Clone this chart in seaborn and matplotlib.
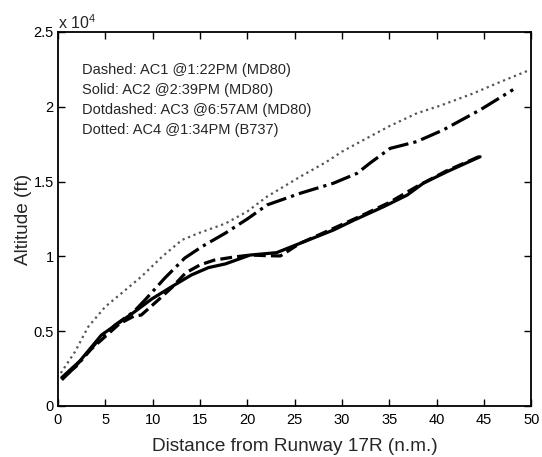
import matplotlib
matplotlib.use("Agg")
import matplotlib.pyplot as plt
import seaborn as sns
import numpy as np
from matplotlib.ticker import FuncFormatter

# Data (distance in n.m., altitude in ft)
ac1_x = [0.4, 1.8, 3.5, 5.0, 6.5, 8.0, 8.8, 10.6, 12.0, 13.5, 15.0, 16.5, 18.5, 20.3, 22.0, 23.5, 25.6, 29.1, 32.0, 35.0, 38.0, 41.0, 44.6]
ac1_y = [1750, 2630, 3800, 4650, 5500, 6000, 6080, 7090, 7900, 8900, 9430, 9750, 9950, 10090, 10050, 10030, 10880, 11870, 12700, 13600, 14700, 15700, 16700]

ac2_x = [0.4, 2.3, 4.6, 6.4, 8.1, 9.9, 12.0, 14.1, 15.9, 17.7, 20.3, 23.1, 25.6, 29.1, 31.2, 34.4, 36.9, 38.6, 41.1, 44.6]
ac2_y = [1900, 3000, 4750, 5540, 6300, 7150, 7970, 8760, 9250, 9500, 10090, 10250, 10880, 11760, 12400, 13320, 14100, 14890, 15660, 16660]

ac3_x = [0.4, 2.0, 4.0, 6.0, 8.0, 9.2, 11.3, 13.4, 15.2, 17.7, 20.0, 22.1, 25.6, 29.1, 31.6, 33.0, 35.1, 37.9, 40.7, 44.6, 48.1]
ac3_y = [1800, 2700, 4200, 5400, 6300, 7090, 8560, 9890, 10650, 11560, 12500, 13440, 14220, 14890, 15550, 16250, 17220, 17670, 18450, 19790, 21150]

ac4_x = [0.3, 1.8, 3.2, 5.0, 6.7, 8.8, 11.0, 13.1, 14.8, 17.7, 20.0, 22.1, 25.6, 28.4, 30.0, 32.6, 35.0, 37.9, 40.5, 43.9, 46.5, 49.8]
ac4_y = [2200, 3630, 5300, 6640, 7530, 8640, 9980, 11100, 11540, 12200, 13000, 14000, 15330, 16330, 17000, 17890, 18700, 19560, 20100, 20900, 21600, 22450]

legend_lines = [
    "Dashed: AC1 @1:22PM (MD80)",
    "Solid: AC2 @2:39PM (MD80)",
    "Dotdashed: AC3 @6:57AM (MD80)",
    "Dotted: AC4 @1:34PM (B737)",
]
x_ticks = [0, 5, 10, 15, 20, 25, 30, 35, 40, 45, 50]
y_ticks = [0, 5000, 10000, 15000, 20000, 25000]

sns.set_style("ticks")
plt.rcParams["font.family"] = ["Liberation Sans", "DejaVu Sans"]
plt.rcParams["mathtext.fontset"] = "custom"
plt.rcParams["mathtext.rm"] = "Liberation Sans"

fig = plt.figure(figsize=(5.42, 4.57), dpi=100)
ax = fig.add_axes([0.107, 0.1116, 0.873, 0.8184])

sns.lineplot(x=ac4_x, y=ac4_y, ax=ax, color="#555555", linestyle=":", linewidth=1.6, sort=False)
sns.lineplot(x=ac3_x, y=ac3_y, ax=ax, color="black", linestyle="-.", linewidth=2.3, sort=False)
sns.lineplot(x=ac1_x, y=ac1_y, ax=ax, color="black", linestyle="--", linewidth=2.3, sort=False)
sns.lineplot(x=ac2_x, y=ac2_y, ax=ax, color="black", linestyle="-", linewidth=2.3, sort=False)

ax.set_xlim(0, 50)
ax.set_ylim(0, 25000)
ax.set_xticks(x_ticks)
ax.set_yticks(y_ticks)
ax.yaxis.set_major_formatter(FuncFormatter(lambda v, p: "%g" % (v / 1e4)))
ax.tick_params(direction="in", top=True, right=True, length=5, width=1,
               labelsize=10.5, colors="black")
ax.tick_params(axis="y", pad=3)
ax.tick_params(axis="x", pad=5)
for s in ax.spines.values():
    s.set_linewidth(1.3)
    s.set_color("black")

ax.set_xlabel("Distance from Runway 17R (n.m.)", fontsize=13.7, labelpad=8)
ax.set_ylabel("Altitude (ft)", fontsize=13.7, labelpad=1)

for i, t in enumerate(legend_lines):
    ax.text(0.051, 0.898 - i * 0.0535, t, transform=ax.transAxes, fontsize=10.5,
            ha="left", va="center")

fig.text(0.107, 0.950, r"x 10$^4$", fontsize=11.5, ha="left", va="center")

fig.savefig("out.png", dpi=100)
